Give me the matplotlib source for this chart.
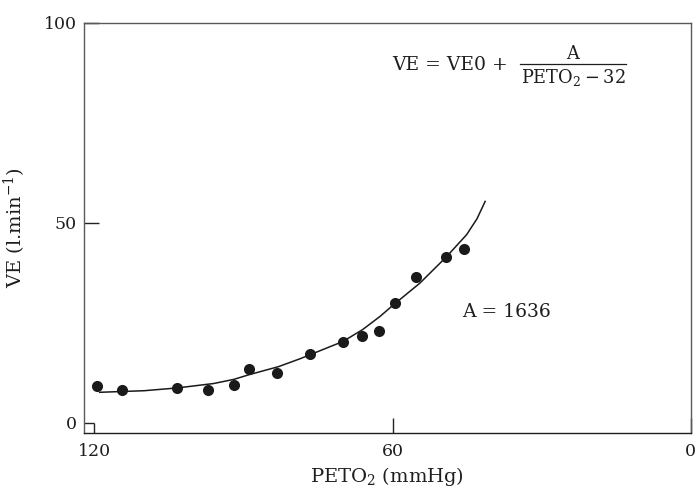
import matplotlib
matplotlib.use("Agg")
import matplotlib.pyplot as plt
from matplotlib.lines import Line2D

# Data
peto2_obs = [119.5, 114.4, 103.4, 97.2, 92.0, 88.9, 83.2, 76.6, 70.0, 66.1, 62.7, 59.6, 55.3, 49.3, 45.6]
ve_obs = [9.2, 8.1, 8.6, 8.25, 9.4, 13.4, 12.35, 17.2, 20.25, 21.7, 22.9, 29.9, 36.35, 41.35, 43.5]

peto2_fit = [119.1, 110.0, 103.3, 96.0, 91.9, 88.9, 83.0, 78.6, 76.6, 70.0, 66.0, 62.5, 59.6, 54.5, 49.3, 45.1, 43.0, 41.3]
ve_fit = [7.6, 8.0, 8.7, 9.8, 10.85, 12.0, 14.0, 16.0, 17.0, 20.3, 23.3, 26.6, 29.7, 34.9, 41.3, 47.0, 51.0, 55.5]

x_ticks = [120, 60, 0]
x_ticklabels = ["120", "60", "0"]
y_ticks = [0, 50, 100]
y_ticklabels = ["0", "50", "100"]

plt.rcParams["font.family"] = ["DejaVu Serif"]
plt.rcParams["mathtext.fontset"] = "dejavuserif"
FS_TICK = 12.5
FS_LAB = 14
FS_ANN = 13.5
FS_FRAC = 12.8
TXT = "#1e1e1e"

W, H = 696, 492
fig = plt.figure(figsize=(W / 100, H / 100), dpi=100)
ax_l, ax_r, ax_t, ax_b = 83.5, 690.7, 22.7, 433.0
ax = fig.add_axes([ax_l / W, 1 - ax_b / H, (ax_r - ax_l) / W, (ax_b - ax_t) / H])

ax.plot(peto2_fit, ve_fit, color="#1a1a1a", lw=1.1, solid_capstyle="butt")
ax.plot(peto2_obs, ve_obs, "o", color="#1a1a1a", ms=8.0, mec="none")

ax.set_xlim(122.2, 0)
ax.set_ylim(-2.57, 100)

ax.set_xticks(x_ticks)
ax.set_xticklabels(x_ticklabels)
ax.set_yticks(y_ticks)
ax.set_yticklabels(y_ticklabels)
ax.tick_params(direction="in", length=10.5, width=1.0, color="#222222",
               labelsize=FS_TICK, labelcolor=TXT)
ax.tick_params(axis="x", pad=7)
ax.tick_params(axis="y", pad=5)

# shorter ticks at the corner (y=0 and x=120)
ax.yaxis.get_major_ticks()[0].tick1line.set_markersize(7.0)
ax.xaxis.get_major_ticks()[0].tick1line.set_markersize(7.0)

for side in ["left", "top", "right"]:
    ax.spines[side].set_color("#5a5a5a")
    ax.spines[side].set_linewidth(1.0)
ax.spines["bottom"].set_color("#1e1e1e")
ax.spines["bottom"].set_linewidth(1.0)

ax.set_xlabel(r"PETO$_2$ (mmHg)", fontsize=FS_LAB, color=TXT)
ax.set_ylabel(r"VE (l.min$^{-1}$)", fontsize=FS_LAB, color=TXT)
ax.xaxis.set_label_coords(0.5, (ax_b - 465) / (ax_b - ax_t))
ax.yaxis.set_label_coords((28 - ax_l) / (ax_r - ax_l), 0.5)

def fx(px):
    return px / W

def fy(py):
    return 1 - py / H

# Formula
fig.text(fx(391.7), fy(69.5), "VE = VE0 +", fontsize=FS_ANN, color=TXT, va="baseline", ha="left")
fig.text(fx(573), fy(59.0), "A", fontsize=FS_FRAC, color=TXT, va="baseline", ha="center")
fig.add_artist(Line2D([fx(520), fx(626)], [fy(64.2), fy(64.2)], color=TXT, lw=0.9))
fig.text(fx(573), fy(83.3), "PETO$_2$\u2009\u2212\u200932", fontsize=FS_FRAC, color=TXT, va="baseline", ha="center")

fig.text(fx(461.7), fy(316.7), "A = 1636", fontsize=FS_ANN, color=TXT, va="baseline", ha="left")

fig.savefig("out.png", dpi=100)
